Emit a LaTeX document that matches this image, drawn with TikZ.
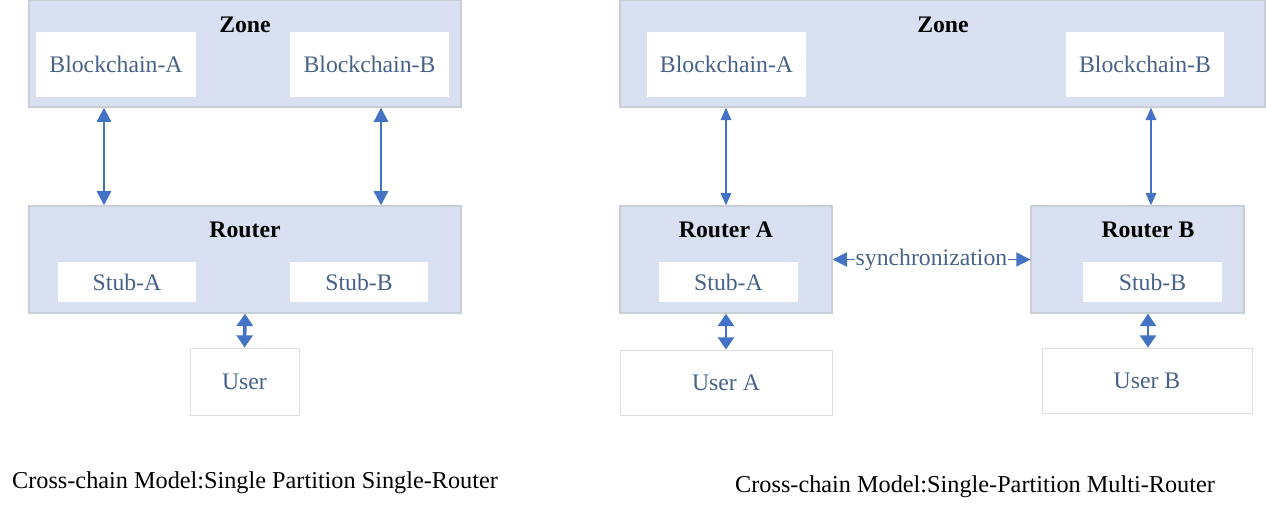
\documentclass[tikz,border=0pt]{standalone}
\usepackage{fontspec}
\setmainfont{Liberation Serif}
\usepackage{xcolor}
\usepackage{tikz}
\usetikzlibrary{arrows.meta, positioning}
\definecolor{zonefill}{RGB}{217,224,241}
\definecolor{zoneline}{RGB}{200,205,214}
\definecolor{labelblue}{RGB}{72,98,135}
\definecolor{arrowblue}{RGB}{68,114,196}
\definecolor{userline}{RGB}{222,222,222}

\begin{document}
\begin{tikzpicture}[
  font=\fontsize{13.5}{16}\selectfont,
  outerbox/.style={draw=zoneline, line width=0.8pt, fill=zonefill, inner sep=0pt},
  chainbox/.style={fill=white, text=labelblue, inner sep=0pt, minimum height=1.30cm},
  stubbox/.style={fill=white, text=labelblue, inner sep=0pt, minimum width=2.76cm, minimum height=0.80cm},
  userbox/.style={draw=userline, fill=white, text=labelblue, inner sep=0pt, minimum height=1.30cm},
  zonetitle/.style={font=\fontsize{13.5}{16}\selectfont\bfseries},
  link/.style={draw=arrowblue, line width=1.3pt, {Triangle[length=8pt,width=8pt]}-{Triangle[length=8pt,width=8pt]}},
  thinlink/.style={draw=arrowblue, line width=0.8pt, {Triangle[length=7pt,width=6pt]}-{Triangle[length=7pt,width=6pt]}},
  userlink/.style={draw=arrowblue, line width=2pt, {Triangle[length=7pt,width=9pt]}-{Triangle[length=7pt,width=9pt]}},
  captext/.style={font=\fontsize{13.8}{16}\selectfont}
]
\useasboundingbox (0,0) rectangle (25.32,-10.24);

% Single partition, single router
\node[outerbox, minimum width=8.64cm, minimum height=2.14cm] (zoneL) at (4.90,-1.07) {};
\node[zonetitle] (zoneLtitle) at (4.90,-0.50) {Zone};
\node[chainbox, minimum width=3.20cm] (chainAL) at (2.32,-1.29) {Blockchain-A};
\node[chainbox, minimum width=3.18cm] (chainBL) at (7.39,-1.29) {Blockchain-B};

\node[outerbox, minimum width=8.64cm, minimum height=2.14cm] (routerL) at (4.90,-5.19) {};
\node[zonetitle] (routerLtitle) at (4.90,-4.60) {Router};
\node[stubbox] (stubAL) at (2.54,-5.64) {Stub-A};
\node[stubbox] (stubBL) at (7.18,-5.64) {Stub-B};

\node[userbox, minimum width=2.18cm, minimum height=1.34cm] (userL) at (4.89,-7.63) {User};

\draw[link] (2.08,0 |- zoneL.south) -- (2.08,0 |- routerL.north);
\draw[link] (7.62,0 |- zoneL.south) -- (7.62,0 |- routerL.north);
\draw[userlink] (routerL.south) -- (userL.north);

\node[captext] (capL) at (5.10,-9.66) {Cross-chain Model:Single Partition Single-Router};

% Single partition, multi router
\node[outerbox, minimum width=12.90cm, minimum height=2.14cm] (zoneR) at (18.85,-1.07) {};
\node[zonetitle] (zoneRtitle) at (18.86,-0.50) {Zone};
\node[chainbox, minimum width=3.18cm] (chainAR) at (14.53,-1.29) {Blockchain-A};
\node[chainbox, minimum width=3.16cm] (chainBR) at (22.90,-1.29) {Blockchain-B};

\node[outerbox, minimum width=4.24cm, minimum height=2.14cm] (routerA) at (14.52,-5.19) {};
\node[zonetitle] (routerAtitle) at (14.52,-4.60) {Router A};
\node[stubbox, minimum width=2.78cm] (stubAR) at (14.57,-5.64) {Stub-A};

\node[outerbox, minimum width=4.26cm, minimum height=2.14cm] (routerB) at (22.75,-5.19) {};
\node[zonetitle] (routerBtitle) at (22.96,-4.60) {Router B};
\node[stubbox, minimum width=2.78cm] (stubBR) at (23.05,-5.64) {Stub-B};

\node[userbox, minimum width=4.24cm] (userA) at (14.52,-7.65) {User A};
\node[userbox, minimum width=4.20cm] (userB) at (22.94,-7.61) {User B};

\draw[thinlink] (14.52,0 |- zoneR.south) -- (14.52,0 |- routerA.north);
\draw[thinlink] (23.02,0 |- zoneR.south) -- (23.02,0 |- routerB.north);
\draw[userlink, line width=1.6pt] (routerA.south) -- (userA.north);
\draw[userlink, line width=1.6pt] (22.96,0 |- routerB.south) -- (22.96,0 |- userB.north);
\draw[link, line width=1pt] (routerA.east) -- node[fill=white, text=labelblue, inner sep=0.5pt] (sync) {synchronization} (routerB.west);

\node[captext] (capR) at (19.50,-9.74) {Cross-chain Model:Single-Partition Multi-Router};
\end{tikzpicture}
\end{document}
